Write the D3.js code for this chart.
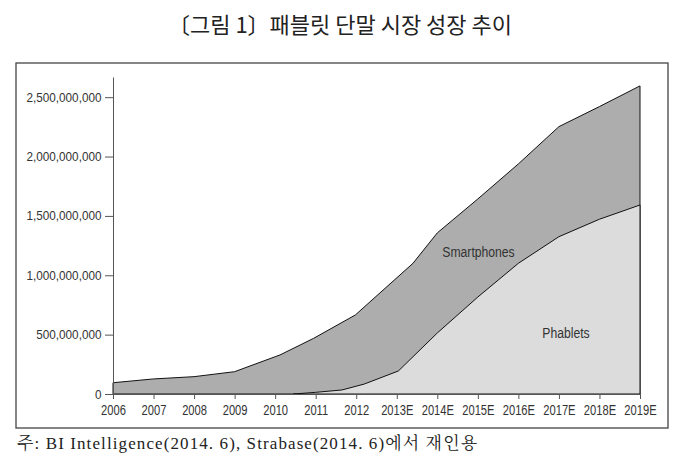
<!DOCTYPE html>
<html>
<head>
<meta charset="utf-8">
<script src="https://cdn.jsdelivr.net/npm/d3@7"></script>
<style>
  body { margin: 0; background: #fff; }
  #chart { width: 686px; height: 461px; }
  .axis text { font-family: "Liberation Sans", Arial, sans-serif; fill: #333; }
  .axis path, .axis line { stroke: #555; }
</style>
</head>
<body>
<div id="chart"></div>
<script>
const yearLabels = ["2006", "2007", "2008", "2009", "2010", "2011", "2012", "2013E", "2014E", "2015E", "2016E", "2017E", "2018E", "2019E"];
const yTicks = [0, 500000000, 1000000000, 1500000000, 2000000000, 2500000000];

// top edge (smartphones incl. phablets), x = position in years from 2006
const totalX = [0, 1, 2, 3, 4, 4.12, 4.95, 5.98, 7.4, 8, 9, 10, 11, 12, 13];
const totalVals = [95e6, 127e6, 146e6, 188e6, 314e6, 329e6, 469e6, 666e6, 1101e6, 1357e6, 1643e6, 1938e6, 2252e6, 2421e6, 2595e6];

// phablets
const phabX = [4.45, 5, 5.65, 6.2, 7.04, 8, 9, 10, 11, 12, 13];
const phabVals = [0, 14e6, 34e6, 84e6, 194e6, 514e6, 817e6, 1101e6, 1325e6, 1472e6, 1592e6];

function draw() {
  const w = 686, h = 461;
  d3.select("#chart").selectAll("svg").remove();

  const svg = d3.select("#chart")
    .append("svg")
    .attr("width", w)
    .attr("height", h);

  svg.append("text")
    .attr("x", 340)
    .attr("y", 33)
    .attr("text-anchor", "middle")
    .style("font-family", "'Noto Sans CJK KR', sans-serif")
    .style("font-size", "22px")
    .style("fill", "#222")
    .text("〔그림 1〕패블릿 단말 시장 성장 추이");

  svg.append("rect")
    .attr("x", 16)
    .attr("y", 63)
    .attr("width", 652)
    .attr("height", 365)
    .attr("fill", "none")
    .attr("stroke", "#444")
    .attr("stroke-width", 1.3);

  const xScale = d3.scaleLinear().domain([0, 13]).range([113, 640]);
  const yScale = d3.scaleLinear().domain([0, 2.67e9]).range([394, 77]);

  const total = totalX.map((x, i) => ({ x, v: totalVals[i] }));
  const phab = phabX.map((x, i) => ({ x, v: phabVals[i] }));

  const area = d3.area()
    .x(d => xScale(d.x))
    .y0(yScale(0))
    .y1(d => yScale(d.v));

  svg.append("path")
    .datum(total)
    .attr("d", area)
    .attr("fill", "#adadad")
    .attr("stroke", "#111")
    .attr("stroke-width", 1);

  svg.append("path")
    .datum(phab)
    .attr("d", area)
    .attr("fill", "#dcdcdc")
    .attr("stroke", "#111")
    .attr("stroke-width", 1);

  const xAxis = svg.append("g")
    .attr("class", "axis")
    .attr("transform", `translate(0,${yScale(0)})`)
    .call(d3.axisBottom(xScale)
      .tickValues(d3.range(yearLabels.length))
      .tickFormat(i => yearLabels[i])
      .tickSize(5)
      .tickSizeOuter(0));
  // condensed look of the original tick font
  xAxis.selectAll("text")
    .style("font-size", "14.5px")
    .attr("y", 21)
    .attr("dy", null)
    .attr("transform", "scale(0.77,1)");

  const yAxis = svg.append("g")
    .attr("class", "axis")
    .attr("transform", `translate(${xScale(0)},0)`)
    .call(d3.axisLeft(yScale)
      .tickValues(yTicks)
      .tickFormat(d3.format(","))
      .tickSize(8)
      .tickSizeOuter(0));
  yAxis.selectAll("text")
    .style("font-size", "12.5px")
    .attr("x", -11.5 / 0.94)
    .attr("transform", "scale(0.94,1)");

  const labelFont = "'Liberation Sans', Arial, sans-serif";
  svg.append("text")
    .attr("transform", "translate(478.5,257) scale(0.87,1)")
    .attr("text-anchor", "middle")
    .style("font-family", labelFont)
    .style("font-size", "14px")
    .style("fill", "#333")
    .text("Smartphones");

  svg.append("text")
    .attr("transform", "translate(566,338) scale(0.87,1)")
    .attr("text-anchor", "middle")
    .style("font-family", labelFont)
    .style("font-size", "14px")
    .style("fill", "#333")
    .text("Phablets");

  svg.append("text")
    .attr("x", 17)
    .attr("y", 449)
    .style("font-family", "'Liberation Serif', 'Noto Serif CJK KR', 'Noto Sans CJK KR', serif")
    .style("font-size", "17px")
    .style("letter-spacing", "1.1px")
    .style("fill", "#222")
    .text("주: BI Intelligence(2014. 6), Strabase(2014. 6)에서 재인용");
}

draw();
</script>
</body>
</html>
